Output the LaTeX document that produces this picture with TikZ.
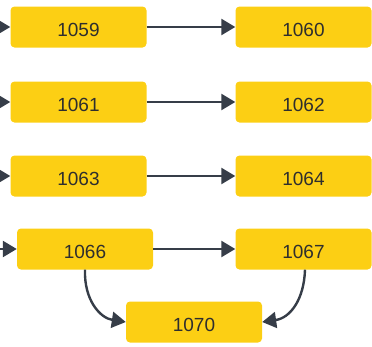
\documentclass[tikz,border=0pt]{standalone}
\usepackage{fontspec}
\setmainfont{Liberation Sans}
\usetikzlibrary{arrows.meta}
\definecolor{boxfill}{HTML}{FCCF14}
\definecolor{edge}{HTML}{363D48}
\definecolor{txt}{HTML}{2E2E2E}
\tikzset{
  box/.style={draw=none, fill=boxfill, rounded corners=4pt, minimum width=136pt, minimum height=41pt, inner sep=0pt, text height=19pt, text depth=0pt, text=txt, font=\fontsize{19}{22}\selectfont},
  conn/.style={draw=edge, line width=2.4pt, -{Triangle[length=14pt,width=16pt]}}
}
\begin{document}
\begin{tikzpicture}[x=1pt,y=-1pt]
\useasboundingbox (0,0) rectangle (372,346);
\node[box] (n1059) at (78.5,27) {1059};
\node[box] (n1060) at (303.5,27) {1060};
\node[box] (n1061) at (78.5,102) {1061};
\node[box] (n1062) at (303.5,102) {1062};
\node[box] (n1063) at (78.5,176) {1063};
\node[box] (n1064) at (303.5,176) {1064};
\node[box] (n1066) at (85,249) {1066};
\node[box] (n1067) at (303.5,249) {1067};
\node[box] (n1070) at (194,322) {1070};
\coordinate (i1) at (-20,27);
\coordinate (i2) at (-20,102);
\coordinate (i3) at (-20,176);
\coordinate (i4) at (-20,249);
\draw[conn] (i1) -- (n1059.west);
\draw[conn] (i2) -- (n1061.west);
\draw[conn] (i3) -- (n1063.west);
\draw[conn] (i4) -- (n1066.west);
\draw[conn] (n1059.east) -- (n1060.west);
\draw[conn] (n1061.east) -- (n1062.west);
\draw[conn] (n1063.east) -- (n1064.west);
\draw[conn] (n1066.east) -- (n1067.west);
\draw[conn] (n1066.south) .. controls (84,300) and (100,318) .. (n1070.west);
\draw[conn] ([xshift=1.5pt]n1067.south) .. controls (304,300) and (290,318) .. (n1070.east);
\end{tikzpicture}
\end{document}
